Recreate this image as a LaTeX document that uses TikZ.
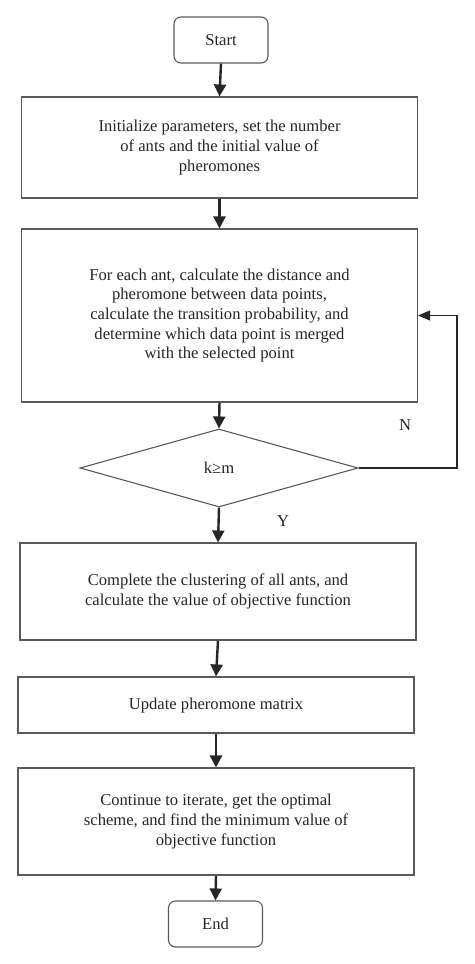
\documentclass[tikz,border=0pt]{standalone}
\usepackage{fontspec}
\setmainfont{Liberation Serif}
\usetikzlibrary{shapes.geometric, arrows.meta, calc}

\begin{document}
\begin{tikzpicture}[x=1pt, y=-1pt,
    blocco/.style = {draw=black!65, line width=1.1pt, text=black!85, align=center, inner sep=2pt,
        font=\fontsize{16.6}{19.6}\selectfont},
    terminale/.style = {blocco, rounded corners=7pt, minimum width=94pt, minimum height=46pt},
    freccia/.style = {line width=2.4pt, black!85, -{Triangle[length=12pt, width=12pt]}},
    ritorno/.style = {line width=1.1pt, black!85, -{Triangle[length=12pt, width=10pt]}},
    etichetta/.style = {text=black!85, font=\fontsize{16.6}{19}\selectfont}]
    % Parametri
    \pgfmathsetmacro{\largo}{396}
    \pgfmathsetmacro{\xritorno}{457}
    % Cornice
    \useasboundingbox (0,0) rectangle (474,964);
    % Nodi
    \node[terminale] (start) at (221,40) {Start};
    \node[blocco, minimum width=\largo pt, minimum height=101pt] (init) at (219.5,147.5)
        {Initialize parameters, set the number\\ of ants and the initial value of\\ pheromones};
    \node[blocco, minimum width=\largo pt, minimum height=173pt] (ants) at (219.5,315.5)
        {For each ant, calculate the distance and\\ pheromone between data points,\\ calculate the transition probability, and\\ determine which data point is merged\\ with the selected point};
    \node[blocco, diamond, aspect=3.56, inner sep=0pt, minimum width=278pt, minimum height=78pt] (check) at (219,468) {k≥m};
    \node[blocco, minimum width=\largo pt, minimum height=97pt] (cluster) at (218,591.5)
        {Complete the clustering of all ants, and\\ calculate the value of objective function};
    \node[blocco, minimum width=\largo pt, minimum height=56pt] (update) at (216,705)
        {Update pheromone matrix};
    \node[blocco, minimum width=\largo pt, minimum height=107pt] (iterate) at (216,821.5)
        {Continue to iterate, get the optimal\\ scheme, and find the minimum value of\\ objective function};
    \node[terminale] (end) at (215.5,924) {End};
    % Frecce
    \draw[freccia] (start.south) -- (init.north);
    \draw[freccia] (init.south) -- (ants.north);
    \draw[freccia] (ants.south) -- (check.north);
    \draw[freccia] (check.south) -- (cluster.north);
    \draw[freccia] (cluster.south) -- (update.north);
    \draw[freccia] (update.south) -- (iterate.north);
    \draw[freccia] (iterate.south) -- (end.north);
    % Ciclo di ritorno
    \coordinate (giro) at (\xritorno,468);
    \draw[ritorno] (check.east) -- (giro) |- (ants.east);
    % Etichette
    \node[etichetta] (no) at (405,425) {N};
    \node[etichetta] (si) at (283,521) {Y};
\end{tikzpicture}
\end{document}
